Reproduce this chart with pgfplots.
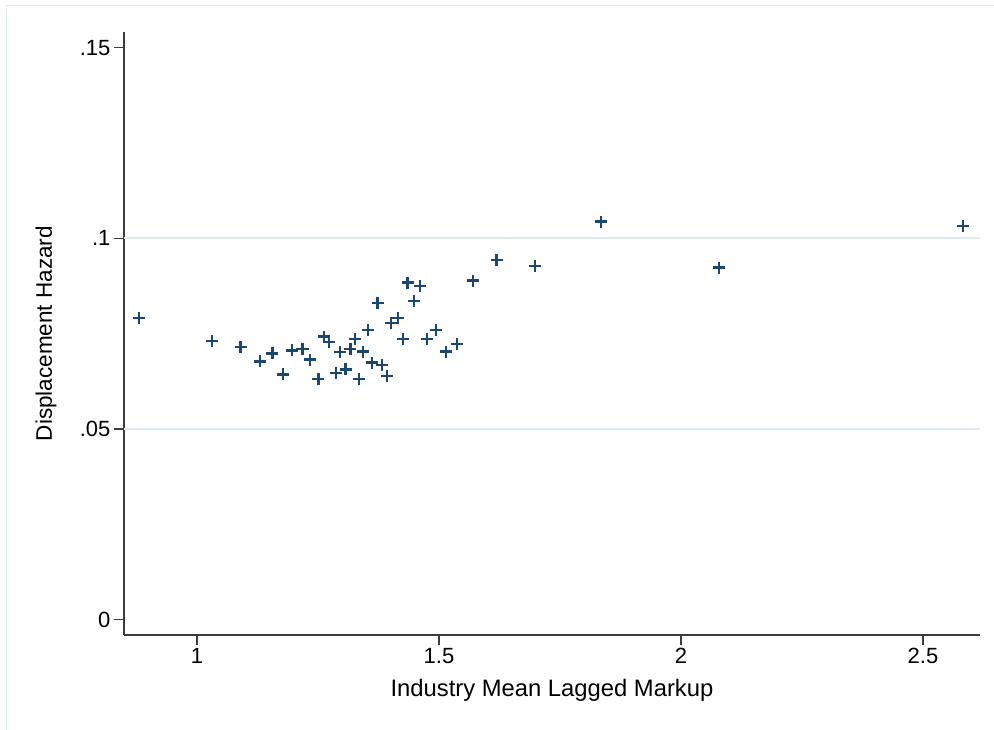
\documentclass[border=0pt]{standalone}
\usepackage{pgfplots}
\pgfplotsset{compat=1.18}
\usepackage{fontspec}
\setmainfont{Liberation Sans}

\definecolor{statanavy}{RGB}{26,71,111}
\definecolor{gridbluish}{RGB}{224,234,238}
\definecolor{framebluish}{RGB}{226,236,240}
\definecolor{axisgray}{RGB}{60,60,60}

\newcommand{\tickfont}{\fontsize{22}{26}\selectfont}
\newcommand{\xlabfont}{\fontsize{23.8}{28}\selectfont}
\newcommand{\ylabfont}{\fontsize{22.5}{27}\selectfont}

\begin{document}
\begin{tikzpicture}
\useasboundingbox (0pt,0pt) rectangle (994pt,730pt);
% outer graph region border
\draw[framebluish, line width=1pt] (6pt,-5pt) -- (6pt,724.3pt) -- (1000pt,724.3pt);
\begin{axis}[
  at={(124pt,95pt)}, anchor=south west,
  scale only axis, width=856pt, height=603pt,
  xmin=0.8492, xmax=2.6178,
  ymin=-0.00407, ymax=0.15412,
  axis lines=left,
  axis line style={-, axisgray, line width=1.6pt},
  tick align=outside,
  major tick length=10pt,
  every tick/.style={axisgray, line width=1.4pt},
  xtick={1,1.5,2,2.5},
  xticklabels={1,1.5,2,2.5},
  ytick={0,0.05,0.1,0.15},
  yticklabels={0,.05,.1,.15},
  extra y ticks={0.05,0.1},
  extra y tick labels={},
  extra y tick style={grid=major, major tick length=0pt,
    major grid style={gridbluish, line width=1.6pt}},
  tick label style={font=\tickfont, black},
  xlabel={\xlabfont Industry Mean Lagged Markup},
  ylabel={\ylabfont Displacement Hazard},
  every axis x label/.style={at={(axis description cs:0.5,-0.0912)}, anchor=center},
  every axis y label/.style={at={(axis description cs:-0.0911,0.5)}, anchor=center, rotate=90},
  clip=false,
]
\addplot[only marks, mark=+, mark size=6pt, statanavy, line width=2.3pt] coordinates {
  (0.880,0.0790) (1.031,0.0731) (1.090,0.0714) (1.130,0.0677) (1.156,0.0698)
  (1.178,0.0643) (1.197,0.0706) (1.218,0.0710) (1.234,0.0682) (1.251,0.0631)
  (1.263,0.0742) (1.273,0.0728) (1.287,0.0647) (1.296,0.0702) (1.307,0.0656)
  (1.317,0.0710) (1.326,0.0735) (1.335,0.0631) (1.343,0.0703) (1.353,0.0759)
  (1.362,0.0674) (1.373,0.0830) (1.382,0.0668) (1.392,0.0639) (1.401,0.0777)
  (1.415,0.0791) (1.425,0.0735) (1.435,0.0884) (1.448,0.0836) (1.461,0.0874)
  (1.475,0.0735) (1.494,0.0760) (1.514,0.0703) (1.537,0.0723) (1.570,0.0889)
  (1.619,0.0943) (1.698,0.0928) (1.835,0.1044) (2.079,0.0923) (2.582,0.1032)
};
\end{axis}
\end{tikzpicture}
\end{document}
